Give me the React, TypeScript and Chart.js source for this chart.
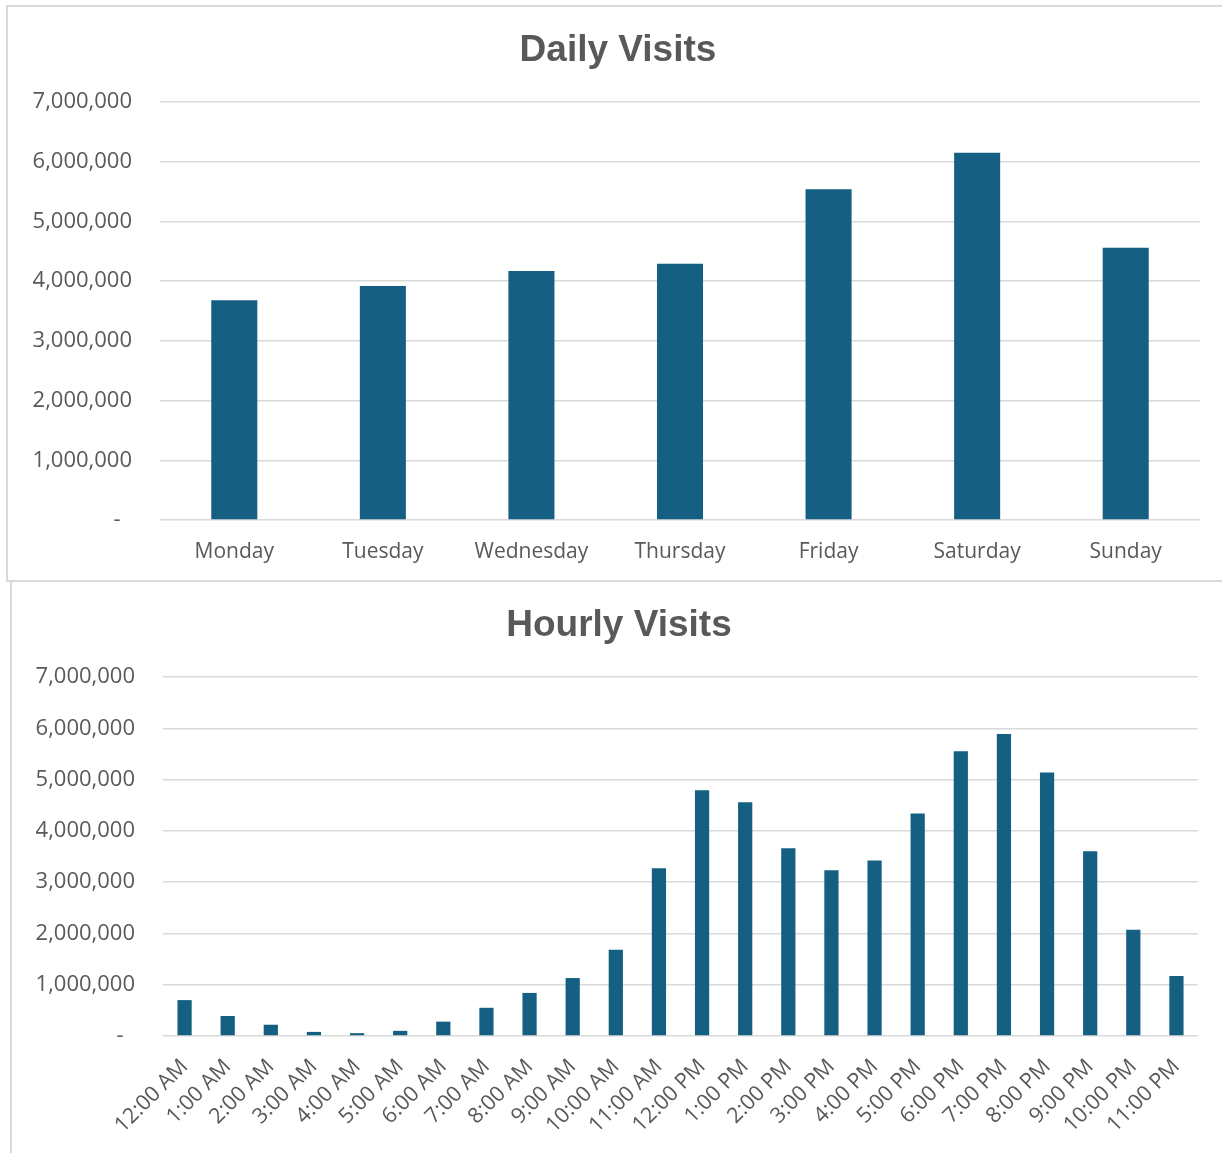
import React, { useEffect, useRef } from "react";
import { Chart, registerables } from "chart.js";

Chart.register(...registerables);

const dayLabels = ["Monday", "Tuesday", "Wednesday", "Thursday", "Friday", "Saturday", "Sunday"];
const dailyVisits = [3680000, 3920000, 4170000, 4290000, 5540000, 6150000, 4560000];

const hourLabels = [
  "12:00 AM", "1:00 AM", "2:00 AM", "3:00 AM", "4:00 AM", "5:00 AM", "6:00 AM", "7:00 AM",
  "8:00 AM", "9:00 AM", "10:00 AM", "11:00 AM", "12:00 PM", "1:00 PM", "2:00 PM", "3:00 PM",
  "4:00 PM", "5:00 PM", "6:00 PM", "7:00 PM", "8:00 PM", "9:00 PM", "10:00 PM", "11:00 PM",
];
const hourlyVisits = [
  700000, 390000, 220000, 80000, 55000, 100000, 280000, 550000,
  840000, 1130000, 1680000, 3270000, 4790000, 4560000, 3660000, 3230000,
  3420000, 4340000, 5550000, 5890000, 5140000, 3600000, 2070000, 1170000,
];

const yMax = 7000000;
const yStep = 1000000;

const BAR = "#156082";
const TEXT = "#595959";
const GRID = "#d9d9d9";
const FONT = "'Open Sans', 'Noto Sans', sans-serif";

function fmt(v: number) {
  return v === 0 ? "-  " : Number(v).toLocaleString("en-US");
}

const centerTitle = {
  id: "centerTitle",
  afterLayout(chart: any) {
    const t = chart.titleBlock;
    if (t) {
      t.left = 0;
      t.right = chart.width;
      t.width = chart.width;
    }
  },
};

type Cfg = {
  title: string;
  labels: string[];
  data: number[];
  barPct: number;
  yWidth: number;
  xHeight: number;
  rotate: boolean;
  xFont: number;
  xPad: number;
};

function BarChart({ cfg, width, height }: { cfg: Cfg; width: number; height: number }) {
  const ref = useRef<HTMLCanvasElement | null>(null);
  useEffect(() => {
    if (!ref.current) return;
    const chart = new Chart(ref.current, {
      type: "bar",
      data: {
        labels: cfg.labels,
        datasets: [
          {
            data: cfg.data,
            backgroundColor: BAR,
            borderWidth: 0,
            categoryPercentage: 1,
            barPercentage: cfg.barPct,
          },
        ],
      },
      plugins: [centerTitle],
      options: {
        responsive: false,
        animation: false,
        layout: { padding: { left: 0, right: 28, top: 0, bottom: 0 } },
        plugins: {
          legend: { display: false },
          tooltip: { enabled: false },
          title: {
            display: true,
            text: cfg.title,
            color: TEXT,
            font: { family: "'Liberation Sans', Arial, sans-serif", size: 37, weight: "bold" },
            padding: { top: 22, bottom: 28.6 },
          },
        },
        scales: {
          x: {
            grid: { display: false, drawTicks: false },
            border: { display: false },
            ticks: {
              color: TEXT,
              font: { family: FONT, size: cfg.xFont },
              padding: cfg.xPad,
              autoSkip: false,
              minRotation: cfg.rotate ? 45 : 0,
              maxRotation: cfg.rotate ? 45 : 0,
            },
            afterFit: (s: any) => {
              s.height = cfg.xHeight;
            },
          },
          y: {
            min: 0,
            max: yMax,
            grid: { color: GRID, lineWidth: 1.5, drawTicks: false },
            border: { display: false },
            ticks: {
              stepSize: yStep,
              color: TEXT,
              font: { family: FONT, size: 22 },
              padding: 28,
              callback: (v: any) => fmt(Number(v)),
            },
            afterFit: (s: any) => {
              s.width = cfg.yWidth;
            },
          },
        },
      } as any,
    });
    return () => chart.destroy();
  }, []);
  return <canvas ref={ref} width={width} height={height} style={{ display: "block", width, height }} />;
}

export default function App() {
  const top: Cfg = {
    title: "Daily Visits",
    labels: dayLabels,
    data: dailyVisits,
    barPct: 0.31,
    yWidth: 152,
    xHeight: 60,
    rotate: false,
    xFont: 21,
    xPad: 19,
  };
  const bottom: Cfg = {
    title: "Hourly Visits",
    labels: hourLabels,
    data: hourlyVisits,
    barPct: 0.33,
    yWidth: 151,
    xHeight: 146,
    rotate: true,
    xFont: 21.5,
    xPad: 18,
  };
  return (
    <div
      style={{
        position: "absolute",
        left: 0,
        top: 0,
        width: 1222,
        height: 1153,
        overflow: "hidden",
        background: "#fff",
      }}
    >
      <div
        style={{
          position: "absolute",
          left: 10,
          top: 580,
          width: 1214,
          height: 600,
          border: `2px solid ${GRID}`,
          background: "#fff",
        }}
      >
        <BarChart cfg={bottom} width={1214} height={600} />
      </div>
      <div
        style={{
          position: "absolute",
          left: 6,
          top: 5,
          width: 1220,
          height: 573,
          border: `2px solid ${GRID}`,
          background: "#fff",
        }}
      >
        <BarChart cfg={top} width={1220} height={573} />
      </div>
    </div>
  );
}
